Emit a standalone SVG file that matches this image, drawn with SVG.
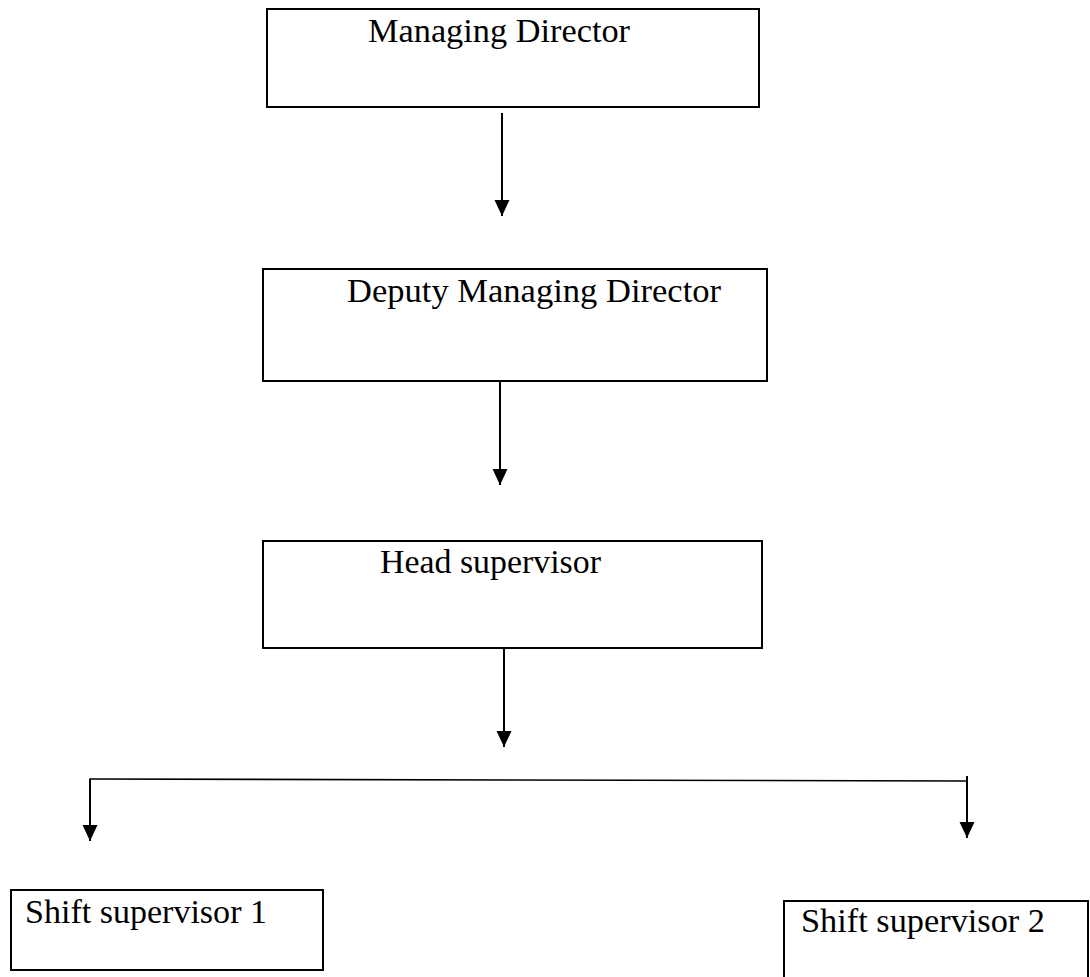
<svg xmlns="http://www.w3.org/2000/svg" width="1090" height="977" viewBox="0 0 1090 977">
  <style>
    .box { fill: #ffffff; stroke: #000000; stroke-width: 2; }
    .label { font-family: "Liberation Serif", "Times New Roman", serif; font-size: 34px; fill: #000000; }
    .link { fill: none; stroke: #000000; stroke-width: 2; }
    .rail { fill: none; stroke: #000000; stroke-width: 1.6; }
  </style>
  <defs>
    <marker id="arrowhead" markerUnits="userSpaceOnUse" markerWidth="16" markerHeight="16" refX="16" refY="7.5" orient="auto">
      <path d="M0,0 L16,7.5 L0,15 Z" fill="#000000"/>
    </marker>
  </defs>

  <rect width="1090" height="977" fill="#ffffff"/>

  <g id="managing-director">
    <rect class="box" x="267" y="9" width="492" height="98"/>
    <text class="label" x="368" y="42" textLength="262" lengthAdjust="spacingAndGlyphs">Managing Director</text>
  </g>

  <g id="deputy-managing-director">
    <rect class="box" x="263" y="269" width="504" height="112"/>
    <text class="label" x="347" y="302" textLength="374" lengthAdjust="spacingAndGlyphs">Deputy Managing Director</text>
  </g>

  <g id="head-supervisor">
    <rect class="box" x="263" y="541" width="499" height="107"/>
    <text class="label" x="380" y="573" textLength="221" lengthAdjust="spacingAndGlyphs">Head supervisor</text>
  </g>

  <g id="shift-supervisor-1">
    <rect class="box" x="11" y="890" width="312" height="80"/>
    <text class="label" x="25" y="923" textLength="242" lengthAdjust="spacingAndGlyphs">Shift supervisor 1</text>
  </g>

  <g id="shift-supervisor-2">
    <rect class="box" x="784" y="901" width="304" height="90"/>
    <text class="label" x="801" y="932" textLength="244" lengthAdjust="spacingAndGlyphs">Shift supervisor 2</text>
  </g>

  <g id="connectors">
    <line class="link" x1="502" y1="113" x2="502" y2="216" marker-end="url(#arrowhead)"/>
    <line class="link" x1="500" y1="381" x2="500" y2="485" marker-end="url(#arrowhead)"/>
    <line class="link" x1="504" y1="648" x2="504" y2="747" marker-end="url(#arrowhead)"/>
    <line class="rail" x1="90" y1="779" x2="967" y2="781"/>
    <line class="link" x1="90" y1="778.5" x2="90" y2="841" marker-end="url(#arrowhead)"/>
    <line class="link" x1="967" y1="776" x2="967" y2="838" marker-end="url(#arrowhead)"/>
  </g>
</svg>
